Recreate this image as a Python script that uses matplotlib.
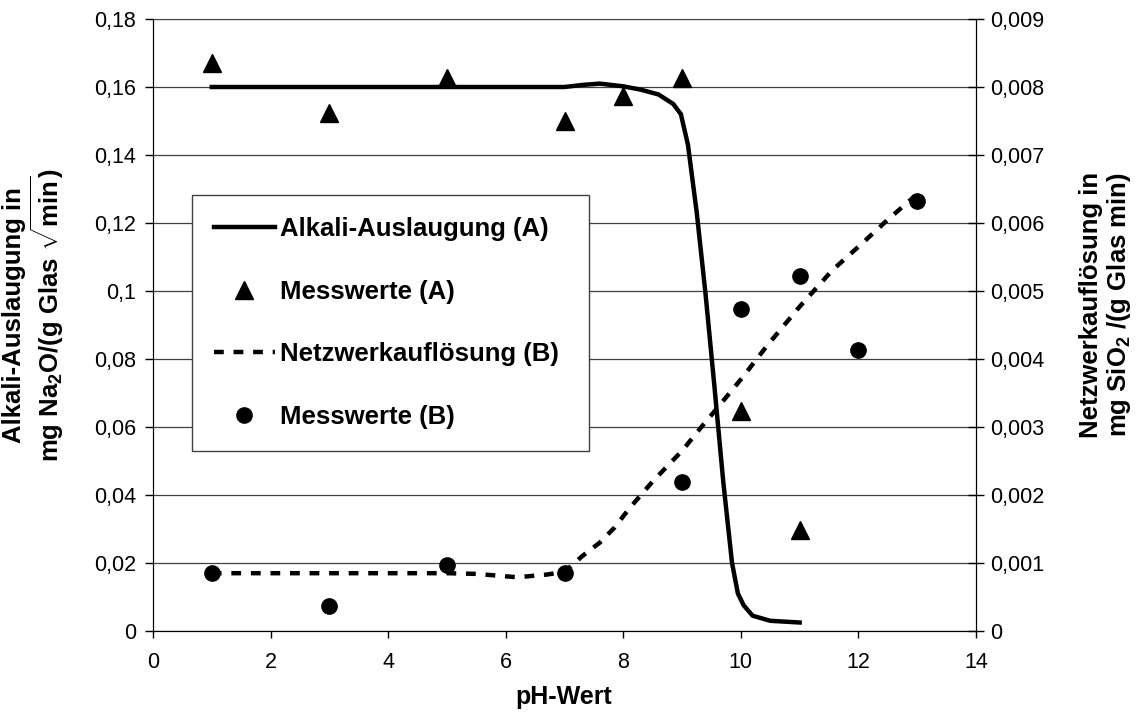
import matplotlib
matplotlib.use("Agg")
import matplotlib.pyplot as plt
from matplotlib.ticker import FuncFormatter, MultipleLocator
from matplotlib.lines import Line2D

plt.rcParams['font.family'] = ['Liberation Sans', 'DejaVu Sans']
plt.rcParams['mathtext.fontset'] = 'custom'
plt.rcParams['mathtext.rm'] = 'Liberation Sans:bold'
plt.rcParams['mathtext.it'] = 'Liberation Sans:bold'
plt.rcParams['mathtext.bf'] = 'Liberation Sans:bold'
plt.rcParams['mathtext.default'] = 'regular'

# Messwerte (A) - Alkali-Auslaugung, linke Achse
ph_a = [1, 3, 5, 7, 8, 9, 10, 11]
mess_a = [0.1672, 0.1524, 0.1625, 0.1500, 0.1573, 0.1625, 0.0648, 0.0298]

# Messwerte (B) - Netzwerkaufloesung, rechte Achse
ph_b = [1, 3, 5, 7, 9, 10, 11, 12, 13]
mess_b = [0.00085, 0.00037, 0.00097, 0.00085, 0.00219, 0.00473, 0.00522, 0.00413, 0.00632]

# Kurve (A)
kurve_a_ph = [1, 7, 7.3, 7.6, 8.0, 8.3, 8.6, 8.85, 8.98, 9.1, 9.25, 9.4, 9.55,
              9.7, 9.85, 9.95, 10.05, 10.2, 10.5, 11]
kurve_a = [0.16, 0.16, 0.1606, 0.1610, 0.1602, 0.1592, 0.1578, 0.1550, 0.1520,
           0.1430, 0.1230, 0.0990, 0.0720, 0.0440, 0.0200, 0.0110, 0.0075,
           0.0045, 0.0030, 0.0025]

# Kurve (B)
kurve_b_ph = [1, 5, 5.5, 6.2, 6.7, 7.0, 7.3, 7.6, 7.85, 8.1, 8.5, 9.0, 9.3, 9.6,
              10.0, 10.45, 11.0, 11.55, 12.1, 12.5, 12.9]
kurve_b = [0.00085, 0.00085, 0.00084, 0.00079, 0.00083, 0.00087, 0.0011, 0.0013,
           0.00152, 0.00180, 0.00220, 0.00265, 0.00297, 0.00328, 0.0037, 0.0042,
           0.00477, 0.0053, 0.00573, 0.00605, 0.00635]

strich = (0, (2.2, 2.2))


def komma(v, pos):
    if abs(v) < 1e-12:
        return "0"
    return ("%g" % round(v, 6)).replace(".", ",")


fig = plt.figure(figsize=(11.44, 7.16), dpi=100)
ax = fig.add_axes([153 / 1144, 1 - 631 / 716, 823 / 1144, 612 / 716])
ax2 = ax.twinx()

ax.set_xlim(0, 14)
ax.set_ylim(0, 0.18)
ax2.set_ylim(0, 0.009)
ax.xaxis.set_major_locator(MultipleLocator(2))
ax.yaxis.set_major_locator(MultipleLocator(0.02))
ax2.yaxis.set_major_locator(MultipleLocator(0.001))
ax.yaxis.set_major_formatter(FuncFormatter(komma))
ax2.yaxis.set_major_formatter(FuncFormatter(komma))

ax.grid(axis='y', color='#404040', linewidth=0.9)
ax.set_axisbelow(True)
ax.spines['top'].set_color('#404040')
ax2.spines['top'].set_visible(False)

ax.tick_params(axis='x', labelsize=15.5, direction='out', length=5, width=1, pad=10)
ax.tick_params(axis='y', labelsize=15.5, direction='out', length=6, width=1, pad=6)
ax2.tick_params(axis='y', labelsize=15.5, direction='inout', length=12, width=1, pad=4)

ax.plot(kurve_a_ph, kurve_a, color='k', linewidth=3.2, zorder=3)
ax.plot(ph_a, mess_a, linestyle='none', marker='^', markersize=12.5, color='k', zorder=4)
ax2.plot(kurve_b_ph, kurve_b, color='k', linewidth=3.2, linestyle=strich, zorder=3)
ax2.plot(ph_b, mess_b, linestyle='none', marker='o', markersize=11, color='k', zorder=4)

fig.text(564 / 1144, 1 - 697 / 716, 'pH-Wert', ha='center', va='center',
         fontsize=18, fontweight='bold')

fig.text(34 / 1144, 1 - 315 / 716,
         'Alkali-Auslaugung in\nmg Na$_2$O/(g Glas $\\sqrt{\\mathrm{min}}$)',
         rotation=90, ha='center', va='center', fontsize=18.5, fontweight='bold',
         multialignment='center', linespacing=1.1)
fig.text(1106 / 1144, 1 - 305 / 716,
         'Netzwerkauflösung in\nmg SiO$_2$ /(g Glas min)',
         rotation=90, ha='center', va='center', fontsize=18.5, fontweight='bold',
         multialignment='center', linespacing=1.1)

handles = [
    Line2D([], [], color='k', linewidth=3.2),
    Line2D([], [], linestyle='none', marker='^', markersize=12.5, color='k'),
    Line2D([], [], color='k', linewidth=3.2, linestyle=strich),
    Line2D([], [], linestyle='none', marker='o', markersize=11, color='k'),
]
labels = ['Alkali-Auslaugung (A)', 'Messwerte (A)', 'Netzwerkauflösung (B)', 'Messwerte (B)']
leg = ax2.legend(handles, labels, loc='upper left',
                 bbox_to_anchor=(0.047, 0.265, 0.483, 0.447), mode='expand',
                 borderaxespad=0, fancybox=False, framealpha=1, edgecolor='#404040',
                 prop={'weight': 'bold', 'size': 18.5}, labelspacing=1.5,
                 borderpad=0.85, handlelength=2.4, handletextpad=0.2)
leg.get_frame().set_linewidth(1)

fig.savefig('out.png', dpi=100)
